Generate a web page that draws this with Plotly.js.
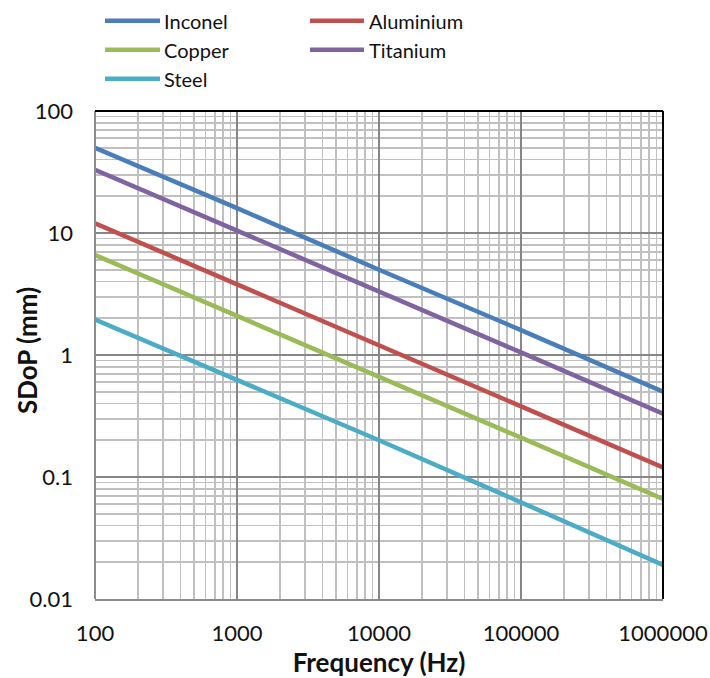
<!DOCTYPE html>
<html><head><meta charset="utf-8">
<script src="https://cdn.plot.ly/plotly-3.0.1.min.js"></script>
<style>body{margin:0;background:#fff}#c{width:710px;height:678px}</style>
</head><body><div id="c"></div>
<script>
const frequency = [100, 1000, 10000, 100000, 1000000];
const inconel   = [50, 16, 5, 1.6, 0.5];
const aluminium = [12, 3.8, 1.2, 0.38, 0.12];
const copper    = [6.6, 2.1, 0.66, 0.21, 0.066];
const titanium  = [33, 10.5, 3.3, 1.05, 0.33];
const steel     = [1.95, 0.62, 0.2, 0.062, 0.019];
const xTicks = [100, 1000, 10000, 100000, 1000000];
const xTickText = ['100', '1000', '10000', '100000', '1000000'];
const yTicks = [0.01, 0.1, 1, 10, 100];
const yTickText = ['0.01', '0.1', '1', '10', '100'];

const FONT = 'Lato, "Open Sans", sans-serif';
function tr(name, y, color, leg) {
  return {x: frequency, y: y, name: name, type: 'scatter', mode: 'lines',
    line: {color: color, width: 4.5}, legend: leg};
}
const data = [
  tr('Inconel', inconel, '#4a7ebb', 'legend'),
  tr('Aluminium', aluminium, '#c0504d', 'legend2'),
  tr('Copper', copper, '#9bbb59', 'legend'),
  tr('Titanium', titanium, '#8064a2', 'legend2'),
  tr('Steel', steel, '#4bacc6', 'legend')
];
const axisCommon = {
  type: 'log', showgrid: true, gridcolor: '#868686', gridwidth: 2,
  minor: {showgrid: true, dtick: 'D1', gridcolor: '#c0c0c0', gridwidth: 1.6},
  zeroline: false,
  tickfont: {family: FONT, size: 22, color: '#111'}, tickmode: 'array', automargin: false
};
const legCommon = {xanchor: 'left', yanchor: 'top', xref: 'paper', yref: 'paper',
  font: {family: FONT, size: 20, color: '#111'}, itemwidth: 54, tracegroupgap: 0,
  bgcolor: 'rgba(0,0,0,0)'};
const layout = {
  width: 710, height: 678,
  margin: {l: 73, r: 47, t: 111, b: 79, autoexpand: false},
  paper_bgcolor: '#fff', plot_bgcolor: '#fff',
  font: {family: FONT, color: '#111'},
  xaxis: Object.assign({}, axisCommon, {
    domain: [0.0373, 1],
    range: [2, 6], tickvals: xTicks, ticktext: xTickText,
    showline: true, linecolor: '#8c8c8c', linewidth: 2,
    ticks: 'outside', tickcolor: 'rgba(0,0,0,0)', ticklen: 14,
    title: {text: '<b>Frequency (Hz)</b>', font: {family: FONT, size: 26, color: '#111'}, standoff: 6}
  }),
  yaxis: Object.assign({}, axisCommon, {
    anchor: 'free', position: 0, showline: false,
    range: [-2, 2], tickvals: yTicks, ticktext: yTickText, ticks: ''
  }),
  annotations: [{
    text: '<b>SDoP (mm)</b>', xref: 'paper', yref: 'paper', x: -0.078, y: 0.51,
    xanchor: 'center', yanchor: 'middle', textangle: -90, showarrow: false,
    font: {family: FONT, size: 26, color: '#111'}
  }],
  showlegend: true,
  legend: Object.assign({}, legCommon, {x: 0.0458, y: 1.225}),
  legend2: Object.assign({}, legCommon, {x: 0.3932, y: 1.225}),
  shapes: [
    {type: 'line', xref: 'x domain', yref: 'y domain', x0: 0, x1: 0, y0: 0, y1: 1, line: {color: '#8c8c8c', width: 2}},
    {type: 'line', xref: 'x domain', yref: 'y domain', x0: 0, x1: 1, y0: 1, y1: 1, line: {color: '#000', width: 2}},
    {type: 'line', xref: 'x domain', yref: 'y domain', x0: 1, x1: 1, y0: 0, y1: 1, line: {color: '#000', width: 2}}
  ]
};
Plotly.newPlot('c', data, layout, {displayModeBar: false, staticPlot: true}).then(function () {
  try {
    document.querySelectorAll('.legend .legendlines path').forEach(function (p) {
      p.setAttribute('d', 'M5,0h55');
    });
  } catch (e) {}
});
</script></body></html>
